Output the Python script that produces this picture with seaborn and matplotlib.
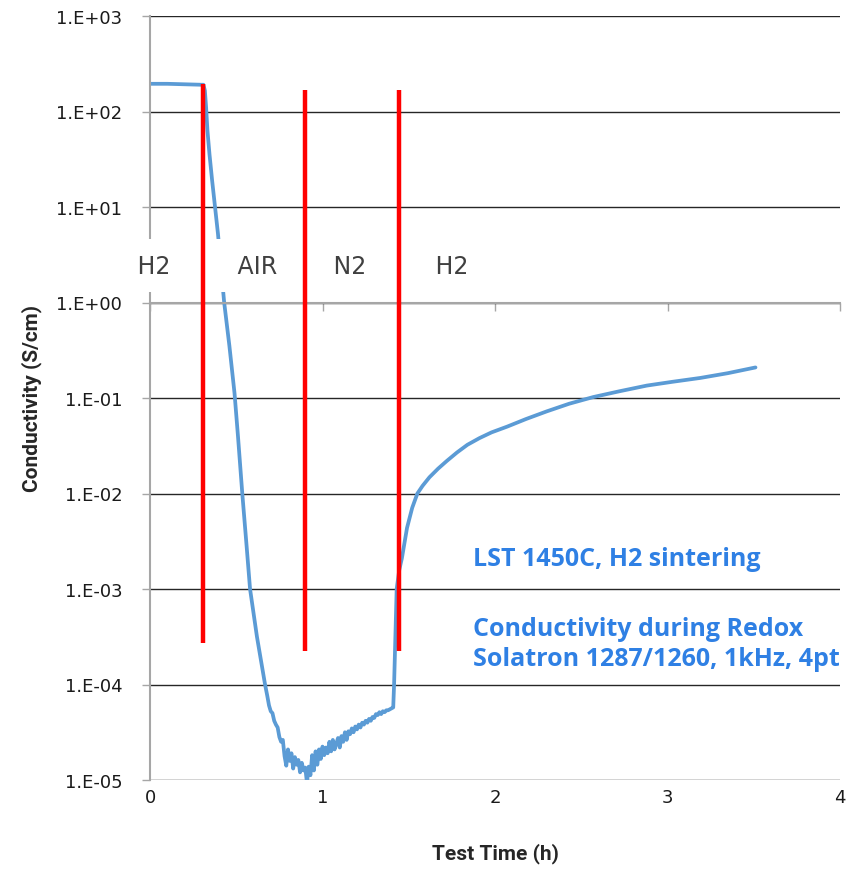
import numpy as np
import pandas as pd
import seaborn as sns
import matplotlib
import matplotlib.pyplot as plt
from matplotlib.ticker import FuncFormatter

matplotlib.use('Agg')

# test time (h) and log10 of conductivity (S/cm)
time_h = [0.00, 0.10, 0.20, 0.30, 0.31, 0.318, 0.325, 0.333, 0.345, 0.36, 0.377,
          0.394, 0.41, 0.43, 0.46, 0.49, 0.51, 0.535, 0.56, 0.58, 0.62, 0.667,
          0.68, 0.69, 0.70, 0.71, 0.72, 0.73, 0.74, 0.75,
          0.76, 0.77, 0.78, 0.79, 0.80, 0.81, 0.82, 0.83, 0.84, 0.85,
          0.86, 0.87, 0.88, 0.89, 0.90, 0.91, 0.92, 0.93, 0.94, 0.95,
          0.96, 0.97, 0.98, 0.99, 1.00, 1.01, 1.02, 1.03, 1.04, 1.05,
          1.06, 1.07, 1.08, 1.09, 1.10, 1.11, 1.12, 1.13, 1.14, 1.15,
          1.16, 1.17, 1.18, 1.19, 1.20, 1.21, 1.22, 1.23, 1.24, 1.25,
          1.26, 1.27, 1.28, 1.29, 1.30, 1.31, 1.32, 1.33, 1.34, 1.35,
          1.36, 1.37, 1.38, 1.39, 1.40, 1.41,
          1.415, 1.43, 1.445, 1.46, 1.49, 1.52, 1.55, 1.58, 1.62, 1.67,
          1.72, 1.78, 1.84, 1.91, 1.98, 2.07, 2.18, 2.30, 2.43, 2.57, 2.72,
          2.88, 3.03, 3.19, 3.35, 3.51]
log_sigma = [2.29, 2.29, 2.285, 2.28, 2.28, 2.22, 2.05, 1.80, 1.55, 1.28, 1.00,
             0.72, 0.40, 0.00, -0.45, -0.95, -1.40, -2.00, -2.55, -3.00, -3.50, -4.00,
             -4.12, -4.22, -4.28, -4.30, -4.38, -4.42, -4.45, -4.55,
             -4.60, -4.58, -4.75, -4.85, -4.68, -4.80, -4.72, -4.88, -4.76, -4.84,
             -4.79, -4.92, -4.82, -4.90, -4.87, -5.03, -4.86, -4.95, -4.74, -4.90,
             -4.70, -4.84, -4.68, -4.78, -4.65, -4.74, -4.66, -4.72, -4.60, -4.70,
             -4.58, -4.68, -4.62, -4.56, -4.66, -4.54, -4.60, -4.50, -4.58, -4.49,
             -4.52, -4.46, -4.50, -4.44, -4.47, -4.42, -4.45, -4.40, -4.42, -4.38,
             -4.40, -4.36, -4.38, -4.34, -4.35, -4.31, -4.32, -4.29, -4.31, -4.28,
             -4.29, -4.27, -4.27, -4.26, -4.25, -4.24,
             -4.00, -3.00, -2.80, -2.68, -2.36, -2.15, -2.00, -1.92, -1.83, -1.74,
             -1.66, -1.57, -1.49, -1.42, -1.36, -1.30, -1.22, -1.14, -1.06, -0.99, -0.93,
             -0.87, -0.83, -0.79, -0.74, -0.68]

switch_times = [0.305, 0.899, 1.445]
switch_low = [10 ** -3.57, 10 ** -3.65, 10 ** -3.65]
switch_high = [10 ** 2.29, 10 ** 2.22, 10 ** 2.22]

gas_labels = ['H2', 'AIR', 'N2', 'H2']
gas_x = [0.02, 0.625, 1.16, 1.75]
gas_y = 2.44

y_ticks = [1e-5, 1e-4, 1e-3, 1e-2, 1e-1, 1e0, 1e1, 1e2, 1e3]
x_ticks = [0, 1, 2, 3, 4]

df = pd.DataFrame({'time': time_h, 'sigma': 10 ** np.array(log_sigma)})

sns.set_style('white')
fig = plt.figure(figsize=(8.68, 8.70), dpi=100)
ax = fig.add_axes([150 / 868, 1 - 781 / 870, 690 / 868, 764 / 870])

sns.lineplot(data=df, x='time', y='sigma', ax=ax, sort=False, estimator=None,
             color='#5B9BD5', lw=2.7, zorder=2)

ax.vlines(switch_times, switch_low, switch_high, colors='#FF0000', lw=3.2, zorder=4)

for lab, gx in zip(gas_labels, gas_x):
    ax.text(gx, gas_y, ' ' + lab + ' ', ha='center', va='center', fontsize=17,
            color='#404040', zorder=3,
            bbox=dict(boxstyle='square,pad=0.6', fc='white', ec='none'))

blue_txt = '#2F80E4'
ax.text(1.872, 10 ** -2.68, 'LST 1450C, H2 sintering', ha='left', va='center',
        fontsize=18, fontweight='bold', family='Open Sans', color=blue_txt)
ax.text(1.872, 10 ** -3.57, 'Conductivity during Redox\nSolatron 1287/1260, 1kHz, 4pt',
        ha='left', va='center', fontsize=18, fontweight='bold', family='Open Sans',
        color=blue_txt, linespacing=1.3)

ax.set_yscale('log')
ax.set_ylim(1e-5, 1e3)
ax.set_xlim(0, 4)
ax.set_yticks(y_ticks)
ax.yaxis.set_minor_locator(matplotlib.ticker.NullLocator())
ax.yaxis.set_major_formatter(FuncFormatter(lambda v, _: '1.E{:+03d}'.format(int(round(np.log10(v))))))
ax.set_xticks(x_ticks)

ax.yaxis.grid(True, color='#262626', lw=1.0)
ax.xaxis.grid(False)

for s in ['top', 'right']:
    ax.spines[s].set_visible(False)
ax.spines['left'].set_color('#A6A6A6')
ax.spines['left'].set_linewidth(1.5)
ax.spines['bottom'].set_position(('data', 1))
ax.spines['bottom'].set_color('#A6A6A6')
ax.spines['bottom'].set_linewidth(1.5)
for s in ['left', 'bottom']:
    ax.spines[s].set_zorder(2.5)

ax.tick_params(axis='y', direction='out', length=6, width=1, color='#A6A6A6',
               labelsize=13, labelcolor='#1A1A1A', pad=14, left=True)
ax.tick_params(axis='x', direction='out', length=6, width=1, color='#A6A6A6',
               labelbottom=False, bottom=True)

sec = ax.secondary_xaxis(0)
sec.set_xticks(x_ticks)
sec.tick_params(length=0, pad=6, labelsize=13, labelcolor='#1A1A1A')
sec.spines['bottom'].set_visible(False)

ax.set_xlabel('Test Time (h)', fontsize=15, fontweight='bold', family='Roboto')
ax.set_ylabel('Conductivity (S/cm)', fontsize=15, fontweight='bold', family='Roboto')
ax.xaxis.set_label_coords(0.5, (781 - 843) / 764)
ax.yaxis.set_label_coords((42 - 150) / 690, 0.5)

fig.savefig('out.png', dpi=100)
